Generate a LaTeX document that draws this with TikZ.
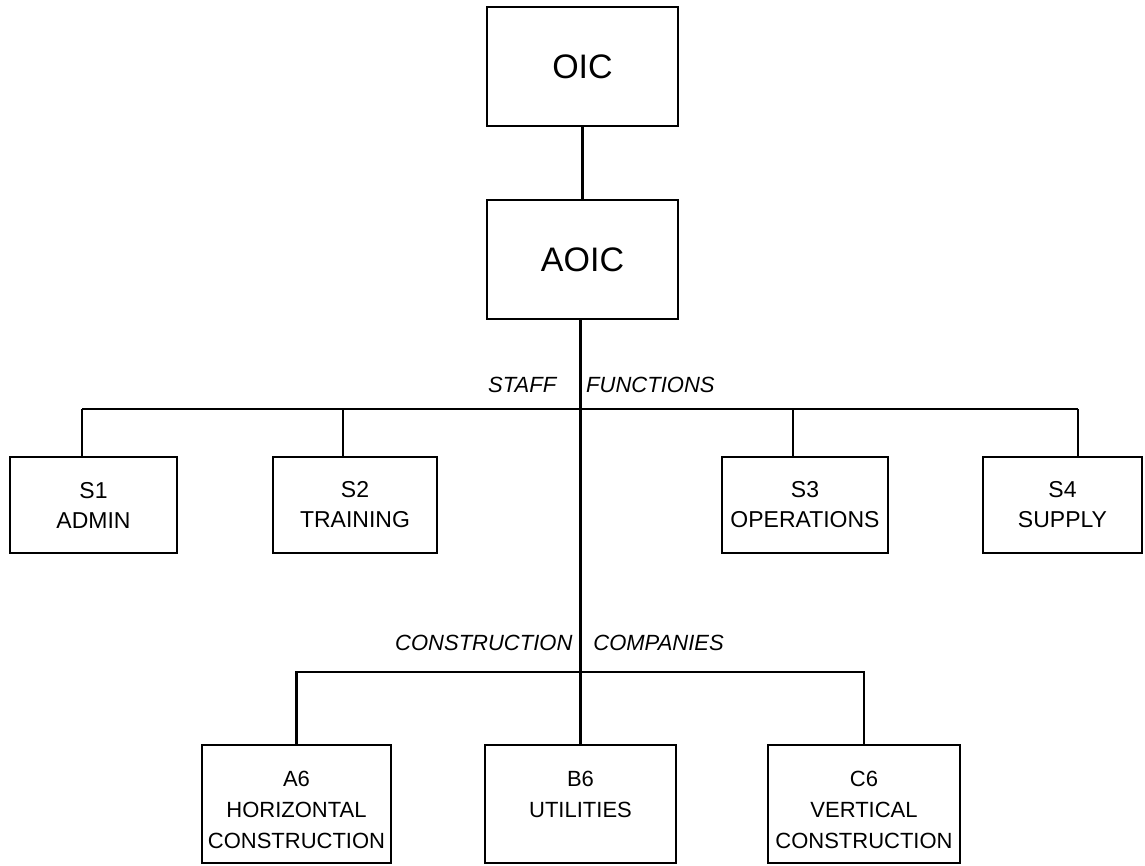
\documentclass[tikz,border=0pt]{standalone}
\usepackage{fontspec}
\setmainfont{Liberation Sans}
\begin{document}
\begin{tikzpicture}[x=1pt,y=-1pt,
  box/.style={draw, line width=2.4pt, inner sep=0pt, align=center,
              font=\fontsize{22}{30}\selectfont},
  headbox/.style={box, minimum width=191pt, minimum height=119pt,
              font=\fontsize{34}{40}\selectfont},
  staffbox/.style={box, minimum height=96pt, font=\fontsize{23}{30}\selectfont},
  cobox/.style={box, minimum height=118pt, text height=88pt, text depth=0pt,
              font=\fontsize{22}{31}\selectfont},
  wire/.style={line width=2.2pt},
  grouplabel/.style={inner sep=0pt, anchor=base west,
              font=\fontsize{22}{26}\selectfont\itshape}]
\useasboundingbox (0,0) rectangle (1145,865);

% command
\node[headbox] (oic)  at (582.5,66.5)  {OIC};
\node[headbox] (aoic) at (582.5,259.5) {AOIC};

% staff sections
\node[staffbox, minimum width=167pt] (s1) at (93.5,505)  {S1\\ADMIN};
\node[staffbox, minimum width=164pt] (s2) at (355,505)   {S2\\TRAINING};
\node[staffbox, minimum width=166pt] (s3) at (805,505)   {S3\\OPERATIONS};
\node[staffbox, minimum width=159pt] (s4) at (1062.5,505){S4\\SUPPLY};

% companies (three text lines each, top aligned)
\node[cobox, minimum width=189pt] (a6) at (296.5,804) {A6\\HORIZONTAL\\CONSTRUCTION};
\node[cobox, minimum width=191pt] (b6) at (580.5,804) {B6\\UTILITIES\\\phantom{C}};
\node[cobox, minimum width=192pt] (c6) at (864,804)   {C6\\VERTICAL\\CONSTRUCTION};

% group labels
\node[grouplabel] (stafflbl) at (488,392) {STAFF\hspace{30pt}FUNCTIONS};
\node[grouplabel] (colbl) at (395,650) {CONSTRUCTION\hspace{21pt}COMPANIES};

% connectors
\draw[wire] (oic) -- (aoic);
\draw[wire] (aoic.south -| b6.north) -- (b6.north);

\coordinate (jA) at (82,409);
\coordinate (jB) at (343,409);
\coordinate (jC) at (793,409);
\coordinate (jD) at (1078,409);
\draw[wire] (jA) -- (jD);
\draw[wire] (jA) -- (jA |- s1.north);
\draw[wire] (jB) -- (jB |- s2.north);
\draw[wire] (jC) -- (jC |- s3.north);
\draw[wire] (jD) -- (jD |- s4.north);

\draw[wire] (a6.north) -- ++(0,-72) -| (c6.north);
\end{tikzpicture}
\end{document}
